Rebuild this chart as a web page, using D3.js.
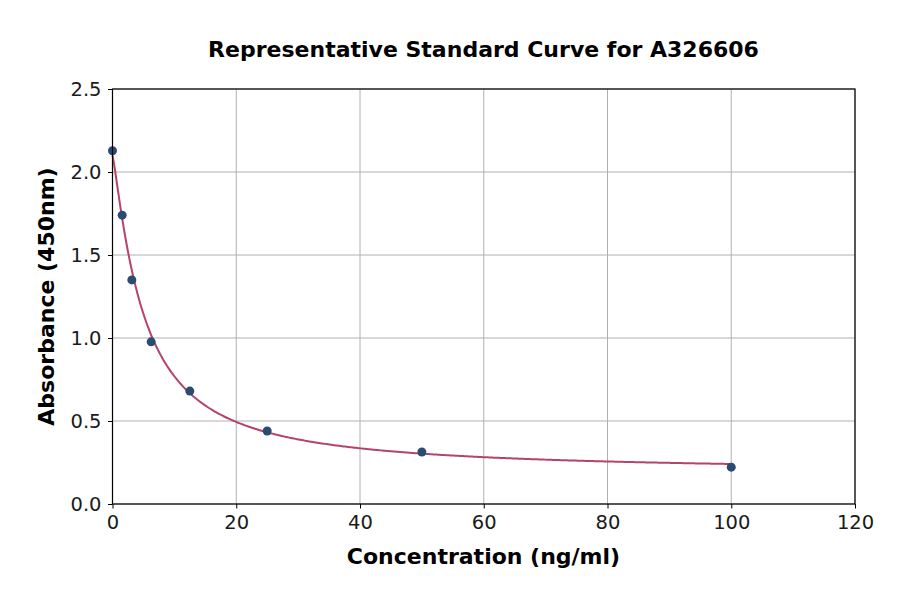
<!DOCTYPE html>
<html>
<head>
<meta charset="utf-8">
<script src="https://cdn.jsdelivr.net/npm/d3@7"></script>
<style>
  html, body { margin: 0; padding: 0; background: #fff; }
  svg { display: block; font-family: "DejaVu Sans", sans-serif; }
</style>
</head>
<body>
<svg id="chart" width="900" height="594"></svg>
<script>
// Data
const concentrations = [0, 1.5625, 3.125, 6.25, 12.5, 25, 50, 100];
const absorbances = [2.128, 1.74, 1.35, 0.977, 0.68, 0.44, 0.313, 0.222];
const xTicks = [0, 20, 40, 60, 80, 100, 120];
const yTicks = [0.0, 0.5, 1.0, 1.5, 2.0, 2.5];
// 4PL fit parameters [top, bottom, ec50, slope]
const fitParams = [2.10, 0.19, 5.0, 1.2];

const titleText = "Representative Standard Curve for A326606";
const xLabel = "Concentration (ng/ml)";
const yLabel = "Absorbance (450nm)";

(function () {
const margin = { left: 112.5, right: 855, top: 89, bottom: 504 };
const svg = d3.select("#chart");

const x = d3.scaleLinear().domain([0, 120]).range([margin.left, margin.right]);
const y = d3.scaleLinear().domain([0, 2.5]).range([margin.bottom, margin.top]);

// grid
const grid = svg.append("g");
grid.selectAll("line.vx").data(xTicks).enter().append("line")
  .attr("x1", d => x(d)).attr("x2", d => x(d))
  .attr("y1", margin.top).attr("y2", margin.bottom)
  .attr("stroke", "#b0b0b0").attr("stroke-width", 1);
grid.selectAll("line.hy").data(yTicks).enter().append("line")
  .attr("y1", d => y(d)).attr("y2", d => y(d))
  .attr("x1", margin.left).attr("x2", margin.right)
  .attr("stroke", "#b0b0b0").attr("stroke-width", 1);

// fit curve
const [pTop, pBottom, ec50, slope] = fitParams;
const model = c => pBottom + (pTop - pBottom) / (1 + Math.pow(c / ec50, slope));
const curveX = d3.range(0, 400).map(i => 100 * i / 399);
const line = d3.line().x(d => x(d)).y(d => y(model(d)));
svg.append("path").datum(curveX)
  .attr("d", line)
  .attr("fill", "none")
  .attr("stroke", "#b5446b")
  .attr("stroke-width", 2);

// points
svg.selectAll("circle.pt").data(concentrations).enter().append("circle")
  .attr("cx", d => x(d))
  .attr("cy", (d, i) => y(absorbances[i]))
  .attr("r", 4.5)
  .attr("fill", "#2c4b70");

// axes
const xAxis = d3.axisBottom(x).tickValues(xTicks).tickFormat(d3.format("d")).tickSizeOuter(0).tickSize(4.5).tickPadding(6.5);
const yAxis = d3.axisLeft(y).tickValues(yTicks).tickFormat(d3.format(".1f")).tickSizeOuter(0).tickSize(4.5).tickPadding(6.5);

const gx = svg.append("g").attr("transform", `translate(0,${margin.bottom})`).call(xAxis);
const gy = svg.append("g").attr("transform", `translate(${margin.left},0)`).call(yAxis);
[gx, gy].forEach(g => {
  g.selectAll("text").attr("font-size", 19.5).attr("font-family", "DejaVu Sans").attr("fill", "#1a1a1a");
  g.selectAll("line").attr("stroke", "#000").attr("stroke-width", 1);
  g.select(".domain").remove();
});

// frame
svg.append("rect")
  .attr("x", margin.left).attr("y", margin.top)
  .attr("width", margin.right - margin.left).attr("height", margin.bottom - margin.top)
  .attr("fill", "none").attr("stroke", "#000").attr("stroke-width", 1.2);

// titles
svg.append("text").attr("x", 483.5).attr("y", 57)
  .attr("text-anchor", "middle").attr("font-weight", "bold").attr("font-size", 22)
  .text(titleText);
svg.append("text").attr("x", 483.5).attr("y", 564)
  .attr("text-anchor", "middle").attr("font-weight", "bold").attr("font-size", 22)
  .text(xLabel);
svg.append("text").attr("transform", "translate(54,296.5) rotate(-90)")
  .attr("text-anchor", "middle").attr("font-weight", "bold").attr("font-size", 22)
  .text(yLabel);
})();
</script>
</body>
</html>
